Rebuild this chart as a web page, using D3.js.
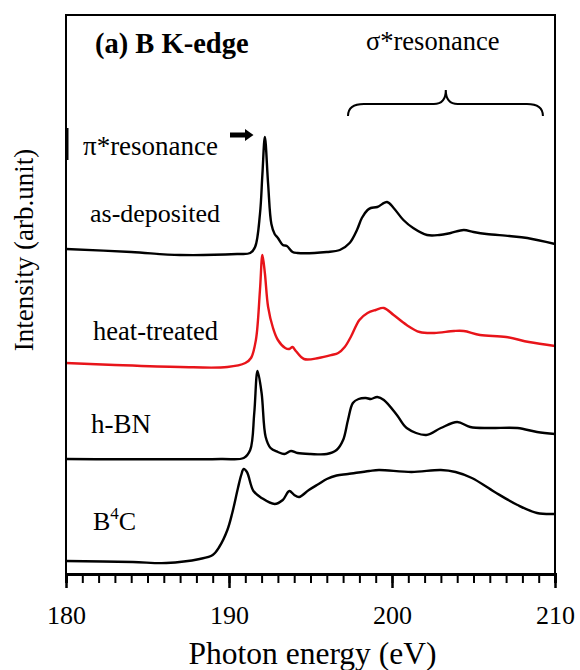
<!DOCTYPE html>
<html>
<head>
<meta charset="utf-8">
<script src="https://cdn.jsdelivr.net/npm/d3@7"></script>
<style>
  body { margin: 0; background: #fff; }
</style>
</head>
<body>
<script>
// variables:
var w = 580
var h = 670
var margin = { top: 15, right: 25, bottom: 96, left: 66 }
var serif = 'Liberation Serif, DejaVu Serif, serif'

// spectra, energy in eV and intensity in arb. units (offset already included)
var asDepositedE = [180.0, 184.0, 187.0, 190.5, 191.3, 191.6, 191.9, 192.05, 192.2, 192.4, 192.6, 192.8, 193.0, 193.3, 193.55, 193.9, 194.2, 196.0, 196.8, 197.4, 197.85, 198.15, 198.5, 198.7, 199.1, 199.7, 200.1, 200.7, 201.3, 202.15, 202.9, 203.6, 204.4, 205.0, 205.8, 207.2, 208.3, 210.0]
var asDepositedI = [325, 322, 319, 320, 321, 327, 360, 400, 437, 390, 350, 340, 336, 329, 328, 322, 321, 322, 324, 331, 344, 356, 364, 366, 367, 372, 366, 354, 346, 339, 339, 341, 344, 342, 340, 338, 336, 330]

var heatTreatedE = [180.0, 183.0, 187.0, 189.9, 191.0, 191.35, 191.65, 191.9, 192.05, 192.2, 192.4, 192.7, 193.0, 193.45, 193.7, 193.9, 194.1, 194.6, 195.5, 196.3, 196.7, 197.1, 197.5, 198.0, 198.5, 199.0, 199.5, 200.1, 200.9, 201.7, 202.6, 203.8, 204.4, 205.4, 207.0, 208.4, 210.0]
var heatTreatedI = [211, 209, 207, 207, 211, 216, 234, 284, 319, 301, 267, 246, 234, 226, 225, 227, 223, 215, 216, 219, 221, 227, 238, 254, 261, 264, 266, 259, 249, 242, 241, 243, 243, 239, 237, 232, 228]

var hBNE = [180.0, 189.5, 190.9, 191.3, 191.55, 191.75, 192.0, 192.25, 192.55, 193.0, 193.4, 193.8, 194.2, 195.0, 196.0, 196.6, 197.0, 197.3, 197.6, 197.95, 198.4, 198.7, 199.1, 199.5, 200.3, 200.9, 202.1, 203.0, 204.0, 204.8, 206.0, 207.7, 208.9, 210.0]
var hBNI = [115, 115, 116, 124, 161, 203, 181, 137, 126, 122, 120, 123, 121, 120, 120, 124, 134, 154, 171, 175, 176, 175, 177, 174, 159, 146, 139, 146, 152, 147, 146, 146, 142, 140]

var b4cE = [180.0, 184.1, 186.15, 188.2, 189.0, 189.4, 189.9, 190.2, 190.55, 190.75, 190.9, 191.1, 191.5, 192.0, 192.8, 193.3, 193.7, 194.0, 194.3, 194.9, 195.5, 196.0, 196.6, 197.3, 198.6, 199.2, 201.2, 203.0, 203.9, 204.9, 206.3, 207.7, 208.9, 210.0]
var b4cI = [13, 12, 11, 15, 19, 27, 44, 61, 86, 99, 105, 102, 83, 76, 70, 74, 83, 79, 77, 84, 90, 95, 98.5, 100, 103, 104, 102, 104, 102, 96, 82, 69, 61, 60]

var seriesNames = ['as-deposited', 'heat-treated', 'h-BN', 'B4C']
var seriesColors = ['#000', '#e8141a', '#000', '#000']

var xTicksMajor = [180, 190, 200, 210]

var svg = d3.select('body')
  .append('svg')
  .attr('width', w)
  .attr('height', h)
  .style('font-family', serif)

var xScale = d3.scaleLinear()
  .domain([180, 210])
  .range([margin.left, w - margin.right])

var yScale = d3.scaleLinear()
  .domain([0, 559])
  .range([h - margin.bottom, margin.top])

var toPoints = function (xs, ys) {
  return xs.map(function (x, i) { return { e: x, v: ys[i] } })
}

var dataset = [
  toPoints(asDepositedE, asDepositedI),
  toPoints(heatTreatedE, heatTreatedI),
  toPoints(hBNE, hBNI),
  toPoints(b4cE, b4cI)
]

var line = d3.line()
  .x(function (d) { return xScale(d.e) })
  .y(function (d) { return yScale(d.v) })
  .curve(d3.curveCatmullRom.alpha(0.5))

// draw spectra
svg.selectAll('path.spec')
  .data(dataset)
  .enter()
  .append('path')
  .attr('class', 'spec')
  .attr('d', line)
  .attr('fill', 'none')
  .attr('stroke', function (d, i) { return seriesColors[i] })
  .attr('stroke-width', 2.4)
  .attr('stroke-linejoin', 'round')

// frame
var x0 = xScale(180)
var x1 = xScale(210)
var y0 = yScale(0)
var y1 = yScale(559)
svg.append('path')
  .attr('d', 'M' + x0 + ',' + y0 + 'V' + y1 + 'H' + x1 + 'V' + y0)
  .attr('fill', 'none')
  .attr('stroke', '#000')
  .attr('stroke-width', 2)

// small thick mark on the left axis
svg.append('line')
  .attr('x1', x0 + 1).attr('x2', x0 + 1)
  .attr('y1', 128).attr('y2', 160)
  .attr('stroke', '#000')
  .attr('stroke-width', 3)

// x axis: minor ticks every 1 eV, major every 10 eV
svg.append('g')
  .attr('transform', 'translate(0,' + y0 + ')')
  .call(d3.axisBottom(xScale).ticks(30).tickSize(9).tickFormat(''))
  .call(function (g) {
    g.select('.domain').attr('stroke-width', 3)
    g.selectAll('.tick line').attr('stroke-width', 2)
  })

svg.append('g')
  .attr('transform', 'translate(0,' + y0 + ')')
  .call(d3.axisBottom(xScale).tickValues(xTicksMajor).tickSize(14).tickPadding(18).tickFormat(d3.format('d')))
  .call(function (g) {
    g.attr('font-family', serif)
    g.select('.domain').remove()
    g.selectAll('.tick line').attr('stroke-width', 2.5)
    g.selectAll('.tick text')
      .attr('font-size', '26px')
      .attr('fill', '#000')
  })

// axis titles
svg.append('text')
  .attr('x', (x0 + x1) / 2 + 2)
  .attr('y', 664)
  .attr('text-anchor', 'middle')
  .attr('font-size', '31.5px')
  .text('Photon energy (eV)')

svg.append('text')
  .attr('transform', 'translate(33,250) rotate(-90)')
  .attr('text-anchor', 'middle')
  .attr('font-size', '27px')
  .text('Intensity (arb.unit)')

// annotations
svg.append('text')
  .attr('x', 95)
  .attr('y', 53)
  .attr('font-size', '28.5px')
  .attr('font-weight', 'bold')
  .text('(a) B K-edge')

svg.append('text')
  .attr('x', 366)
  .attr('y', 50)
  .attr('font-size', '26.5px')
  .text('σ*resonance')

svg.append('text')
  .attr('x', 83)
  .attr('y', 155)
  .attr('font-size', '27px')
  .text('π*resonance')

// arrow pointing at the pi* peak
svg.append('path')
  .attr('d', 'M230,132.5H245V129L253.5,135L245,141V137.5H230Z')
  .attr('fill', '#000')

// brace over the sigma* region
var bl = xScale(197.3)
var bm = xScale(203.3)
var br = xScale(209.26)
var bEnd = 116
var bMid = 104
var bTip = 90
svg.append('path')
  .attr('d', 'M' + bl + ',' + bEnd +
    'Q' + bl + ',' + bMid + ' ' + (bl + 16) + ',' + bMid +
    'H' + (bm - 12) +
    'Q' + bm + ',' + bMid + ' ' + bm + ',' + bTip +
    'Q' + bm + ',' + bMid + ' ' + (bm + 12) + ',' + bMid +
    'H' + (br - 16) +
    'Q' + br + ',' + bMid + ' ' + br + ',' + bEnd)
  .attr('fill', 'none')
  .attr('stroke', '#000')
  .attr('stroke-width', 2)

// series labels
var labelPos = [[90, 222], [93, 340], [91, 433], [93, 530]]
var labelSize = ['26px', '26.5px', '27px', '26px']
svg.selectAll('text.lab')
  .data(seriesNames.slice(0, 3))
  .enter()
  .append('text')
  .attr('class', 'lab')
  .attr('x', function (d, i) { return labelPos[i][0] })
  .attr('y', function (d, i) { return labelPos[i][1] })
  .attr('font-size', function (d, i) { return labelSize[i] })
  .text(function (d) { return d })

var b4c = svg.append('text')
  .attr('x', labelPos[3][0])
  .attr('y', labelPos[3][1])
  .attr('font-size', labelSize[3])
b4c.append('tspan').text('B')
b4c.append('tspan').attr('font-size', '17px').attr('dy', -11).text('4')
b4c.append('tspan').attr('dy', 11).text('C')
</script>
</body>
</html>
